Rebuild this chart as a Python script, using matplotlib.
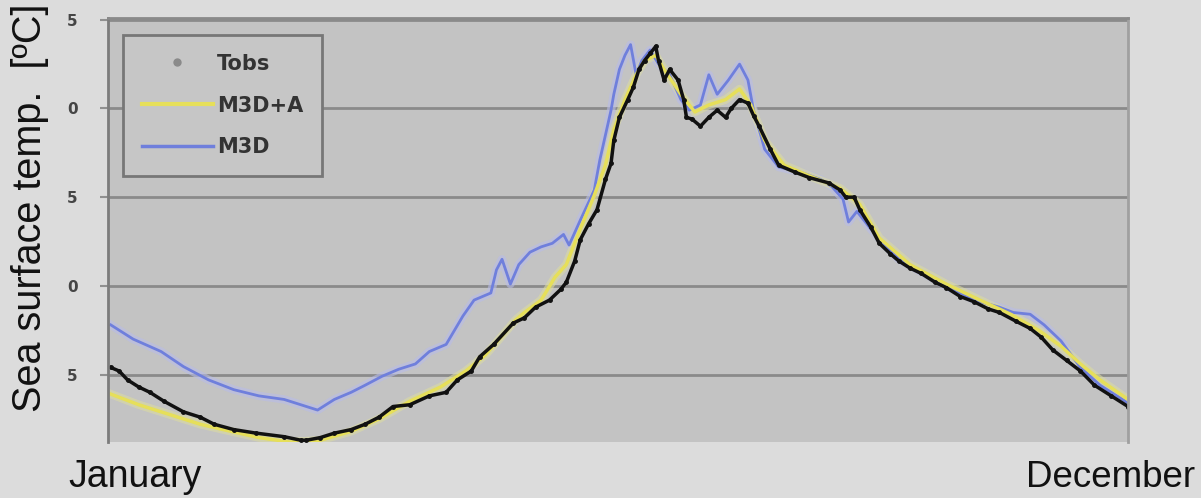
import numpy as np
import matplotlib.pyplot as plt
from matplotlib.lines import Line2D

# Observed sea surface temperature (day of year, degC)
tobs_day = [1, 4, 7, 11, 15, 20, 27, 33, 38, 45, 53, 63, 69, 71, 76, 81, 87, 92, 97, 102,
            108, 115, 121, 125, 130, 133, 138, 145, 149, 153, 158, 162, 164, 167, 169, 172,
            175, 178, 180, 181, 183, 186, 188, 190, 192, 194, 196, 197, 199, 201, 204, 206,
            207, 209, 212, 215, 218, 221, 223, 226, 229, 231, 233, 237, 240, 246, 251, 258,
            262, 264, 267, 269, 273, 276, 280, 283, 287, 291, 296, 300, 305, 310, 315, 319,
            325, 330, 334, 338, 343, 348, 353, 359, 365]
tobs_temp = [5.4, 5.2, 4.7, 4.3, 4.0, 3.5, 2.9, 2.6, 2.2, 1.9, 1.7, 1.5, 1.3, 1.3, 1.45, 1.7,
             1.9, 2.2, 2.6, 3.2, 3.3, 3.8, 4.0, 4.7, 5.2, 6.0, 6.7, 7.9, 8.2, 8.8, 9.2, 9.8,
             10.2, 11.4, 12.6, 13.5, 14.3, 16.0, 16.9, 18.2, 19.5, 20.5, 21.2, 22.2, 22.7,
             23.1, 23.5, 22.7, 21.6, 22.2, 21.6, 20.5, 19.5, 19.4, 19.0, 19.5, 19.9, 19.5,
             20.0, 20.5, 20.3, 19.6, 19.0, 17.7, 16.8, 16.4, 16.1, 15.8, 15.4, 15.0, 15.0,
             14.3, 13.3, 12.4, 11.8, 11.4, 11.0, 10.7, 10.2, 9.9, 9.4, 9.1, 8.7, 8.5, 8.0,
             7.6, 7.1, 6.4, 5.8, 5.2, 4.4, 3.8, 3.2]

# Model M3D
m3d_day = [1, 9, 19, 27, 36, 45, 54, 63, 69, 75, 81, 87, 92, 98, 104, 110, 115, 121, 127,
           131, 137, 139, 141, 144, 147, 151, 155, 159, 163, 165, 169, 174, 176, 178, 180,
           181, 183, 185, 187, 189, 191, 194, 197, 201, 205, 208, 212, 215, 218, 222, 226,
           229, 231, 235, 240, 248, 255, 259, 263, 265, 268, 273, 278, 283, 291, 300, 310,
           319, 324, 330, 335, 341, 348, 355, 365]
m3d_temp = [7.8, 7.0, 6.3, 5.45, 4.7, 4.15, 3.8, 3.6, 3.3, 3.0, 3.6, 4.0, 4.4, 4.9, 5.3, 5.6,
            6.3, 6.7, 8.3, 9.2, 9.6, 10.9, 11.5, 10.1, 11.2, 11.9, 12.2, 12.4, 12.9, 12.3,
            13.7, 15.4, 17.1, 18.5, 19.9, 20.8, 22.2, 23.0, 23.6, 21.9, 22.7, 23.3, 22.5,
            21.9, 20.5, 19.9, 20.2, 21.9, 20.8, 21.6, 22.5, 21.6, 19.9, 17.7, 16.7, 16.4,
            16.0, 15.6, 14.9, 13.6, 14.2, 13.2, 12.3, 11.5, 10.8, 10.0, 9.2, 8.8, 8.5, 8.4,
            7.8, 6.9, 5.4, 4.4, 3.4]

# Model M3D with assimilation
m3da_day = [1, 11, 22, 33, 44, 54, 65, 76, 87, 97, 108, 119, 128, 135, 140, 146, 149, 155,
            160, 164, 169, 174, 178, 181, 185, 189, 192, 196, 199, 205, 210, 215, 221, 226,
            230, 235, 242, 251, 262, 269, 276, 287, 300, 312, 323, 333, 341, 348, 355, 365]
m3da_temp = [3.9, 3.3, 2.75, 2.2, 1.8, 1.45, 1.2, 1.3, 1.8, 2.5, 3.5, 4.3, 5.2, 6.1, 7.0,
             8.1, 8.5, 9.2, 10.5, 11.2, 13.2, 15.1, 16.8, 18.8, 20.5, 21.9, 22.7, 23.0, 22.2,
             20.8, 19.8, 20.2, 20.5, 21.1, 20.2, 18.2, 16.8, 16.2, 15.5, 14.6, 12.7, 11.2,
             10.1, 9.2, 8.4, 7.5, 6.6, 5.6, 4.7, 3.6]

ytick_values = [5, 10, 15, 20, 25]
ytick_labels = ['5', '0', '5', '0', '5']

plt.rcParams['font.family'] = ['Liberation Sans', 'DejaVu Sans']

fig = plt.figure(figsize=(12.01, 4.98), dpi=100, facecolor='#dcdcdc')
ax = fig.add_axes([108 / 1201, 56 / 498, 1020 / 1201, 424 / 498])
ax.set_facecolor('#c3c3c3')

# soft halos under the model lines
ax.plot(m3d_day, m3d_temp, color='#b8bce8', lw=6, alpha=0.6, solid_joinstyle='round')
ax.plot(m3da_day, m3da_temp, color='#dcdca0', lw=6, alpha=0.6, solid_joinstyle='round')
ax.plot(m3d_day, m3d_temp, color='#6f7fdc', lw=2)
ax.plot(m3da_day, m3da_temp, color='#e6df5a', lw=2.5)
ax.plot(tobs_day, tobs_temp, color='#111111', lw=2.5, marker='o', ms=2.5)

ax.set_xlim(0, 365)
ax.set_ylim(1.2, 25.1)
ax.set_xticks([])
ax.set_yticks(ytick_values)
ax.set_yticklabels(ytick_labels, fontsize=11, fontweight='bold', color='#454545',
                   family='DejaVu Sans')
ax.tick_params(axis='y', length=6, width=1.5, color='#909090', pad=16)
ax.grid(axis='y', color='#8a8a8a', lw=2)
ax.set_axisbelow(True)

for side, col in [('left', '#7c7c7c'), ('top', '#8a8a8a'), ('right', '#a0a0a0')]:
    ax.spines[side].set_color(col)
    ax.spines[side].set_linewidth(2)
ax.spines['bottom'].set_visible(False)

handles = [
    Line2D([], [], ls='none', marker='o', ms=5, color='#8a8a8a'),
    Line2D([], [], color='#e6df5a', lw=3),
    Line2D([], [], color='#6f7fdc', lw=2.5),
]
leg = ax.legend(handles, ['Tobs', 'M3D+A', 'M3D'], loc='upper left',
                bbox_to_anchor=(0.0147, 0.96), borderaxespad=0, fancybox=False,
                framealpha=1, facecolor='#c6c6c6', edgecolor='#777777',
                prop={'size': 15, 'weight': 'bold', 'family': 'DejaVu Sans'},
                labelspacing=1.05, handlelength=3.4, handletextpad=0.2, borderpad=0.9)
leg.get_frame().set_linewidth(2)
for t in leg.get_texts():
    t.set_color('#333333')

fig.text(30 / 1201, 1 - 208 / 498, 'Sea surface temp.  [ºC]', rotation=90,
         fontsize=28.5, ha='center', va='center', color='#111111')
fig.text(68 / 1201, 1 - 487 / 498, 'January', fontsize=27, ha='left',
         va='baseline', color='#111111')
fig.text(1195 / 1201, 1 - 487 / 498, 'December', fontsize=26.5, ha='right',
         va='baseline', color='#111111')

fig.savefig('out.png', dpi=100, facecolor=fig.get_facecolor())
